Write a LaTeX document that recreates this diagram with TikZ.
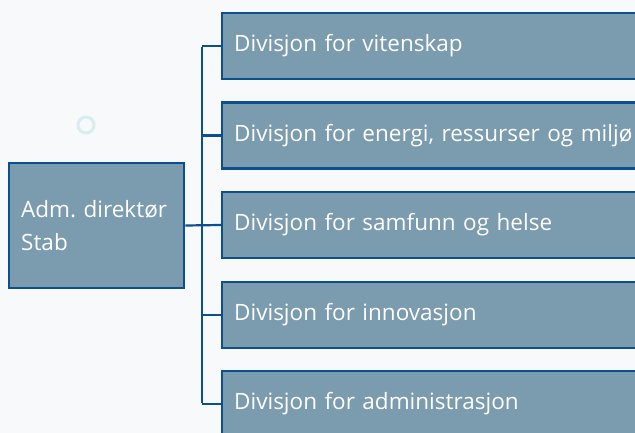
\documentclass[tikz,border=0pt]{standalone}
\usepackage{fontspec}
\setmainfont{Open Sans}
\frenchspacing
\definecolor{bg}{HTML}{F7F9FB}
\definecolor{boxfill}{HTML}{7B9BAE}
\definecolor{boxline}{HTML}{0B4F8E}
\definecolor{deco}{HTML}{D9ECF0}
\begin{document}
\begin{tikzpicture}[x=1pt,y=-1pt,
  divbox/.style={draw=boxline,line width=2.4pt,fill=boxfill,minimum height=66pt,
    minimum width=440pt,anchor=west,text=white,align=left,inner xsep=12pt,
    text width=416pt,font=\fontsize{22.5}{33}\selectfont},
  headbox/.style={draw=boxline,line width=2.4pt,fill=boxfill,minimum height=125pt,
    minimum width=175pt,anchor=west,text=white,align=left,inner xsep=12pt,
    text width=151pt,font=\fontsize{22.5}{33}\selectfont},
  conn/.style={draw=boxline,line width=2.2pt}]
\useasboundingbox (0,0) rectangle (635,433);
\fill[bg] (0,0) rectangle (635,433);
\draw[deco,line width=3pt] (86,125) circle (8);
\begin{scope}
\clip (0,0) rectangle (635,433);
\node[headbox] (head) at (8,225.5) {Adm.\ direktør\\Stab};
\node[divbox] (d1) at (221,46) {Divisjon for vitenskap};
\node[divbox] (d2) at (221,135.5) {Divisjon for energi, ressurser og miljø};
\node[divbox] (d3) at (221,225) {Divisjon for samfunn og helse};
\node[divbox] (d4) at (221,315) {Divisjon for innovasjon};
\node[divbox] (d5) at (221,404) {Divisjon for administrasjon};
\coordinate (t1) at (202,46);
\coordinate (t2) at (202,135.5);
\coordinate (t4) at (202,315);
\coordinate (t5) at (202,404);
\draw[conn] (head.east) -- (d3.west);
\draw[conn] (t1) -- (d1.west);
\draw[conn] (t2) -- (d2.west);
\draw[conn] (t4) -- (d4.west);
\draw[conn] (t5) -- (d5.west);
\draw[conn] ([yshift=-1pt]t1) -- ([yshift=1pt]t5);
\end{scope}
\end{tikzpicture}
\end{document}
